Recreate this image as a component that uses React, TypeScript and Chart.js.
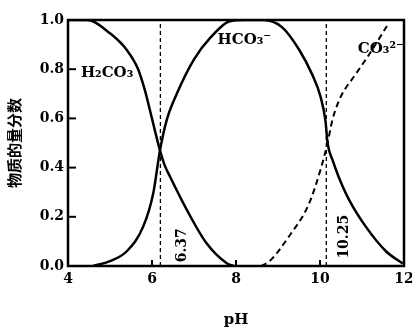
import React, { useEffect, useRef } from 'react';
import { Chart, registerables } from 'chart.js';

Chart.register(...registerables);

// pH axis
const xMin = 4;
const xMax = 12;
const xTickValues = [4, 6, 8, 10, 12];
const yTickValues = [0, 0.2, 0.4, 0.6, 0.8, 1.0];

// H2CO3 fraction vs pH
const h2co3PH = [4.0, 4.44, 5.0, 5.4, 5.67, 5.83, 5.95, 6.07, 6.19, 6.3, 6.43, 6.83, 7.3, 7.78, 7.95];
const h2co3Val = [1.0, 1.0, 0.946, 0.878, 0.8, 0.715, 0.634, 0.55, 0.47, 0.41, 0.363, 0.228, 0.092, 0.011, 0.0];

// HCO3- fraction vs pH
const hco3PH = [4.6, 5.0, 5.4, 5.79, 6.03, 6.19, 6.35, 6.59, 7.0, 7.4, 7.85, 8.2, 8.65, 9.1, 9.5, 9.81, 10.01, 10.13, 10.18, 10.3, 10.45, 10.69, 11.09, 11.57, 11.97];
const hco3Val = [0.0, 0.02, 0.06, 0.16, 0.296, 0.47, 0.593, 0.7, 0.84, 0.93, 0.995, 1.0, 1.0, 0.97, 0.88, 0.78, 0.69, 0.59, 0.5, 0.43, 0.36, 0.27, 0.16, 0.06, 0.01];

// CO3 2- fraction vs pH (dashed)
const co3PH = [8.6, 8.8, 9.26, 9.73, 10.01, 10.18, 10.29, 10.4, 10.53, 10.85, 11.17, 11.61];
const co3Val = [0.0, 0.02, 0.12, 0.25, 0.39, 0.5, 0.59, 0.65, 0.7, 0.78, 0.86, 0.98];

// vertical pKa lines (positions as drawn) and their labels
const pkaLineX = [6.2, 10.15];
const pkaLabels = ['6.37', '10.25'];
const pkaLabelX = [6.72, 10.58];
const pkaLabelY = [0.015, 0.03];

// species labels
const speciesNames = ['H₂CO₃', 'HCO₃⁻', 'CO₃²⁻'];
const speciesX = [4.93, 8.2, 11.45];
const speciesY = [0.785, 0.92, 0.88];

const toPoints = (xs: number[], ys: number[]) => xs.map((x, i) => ({ x, y: ys[i] }));

const SERIF = '"DejaVu Serif", "Liberation Serif", serif';

const overlayPlugin = {
  id: 'overlay',
  afterDatasetsDraw(chart: any) {
    const { ctx, chartArea, scales } = chart;
    const xs = scales.x;
    const ys = scales.y;
    ctx.save();
    // frame
    ctx.strokeStyle = '#000';
    ctx.lineWidth = 2.5;
    ctx.strokeRect(chartArea.left, chartArea.top, chartArea.right - chartArea.left, chartArea.bottom - chartArea.top);
    // inward ticks
    ctx.lineWidth = 2;
    yTickValues.forEach((v) => {
      const py = ys.getPixelForValue(v);
      ctx.beginPath();
      ctx.moveTo(chartArea.left, py);
      ctx.lineTo(chartArea.left + 8, py);
      ctx.stroke();
    });
    xTickValues.forEach((v) => {
      const px = xs.getPixelForValue(v);
      ctx.beginPath();
      ctx.moveTo(px, chartArea.bottom);
      ctx.lineTo(px, chartArea.bottom - 6);
      ctx.stroke();
    });
    // species labels
    ctx.fillStyle = '#000';
    ctx.font = 'bold 15px ' + SERIF;
    ctx.textAlign = 'center';
    ctx.textBaseline = 'middle';
    speciesNames.forEach((t, i) => {
      ctx.fillText(t, xs.getPixelForValue(speciesX[i]), ys.getPixelForValue(speciesY[i]));
    });
    // pKa labels rotated
    ctx.font = 'bold 14px ' + SERIF;
    pkaLabels.forEach((t, i) => {
      const px = xs.getPixelForValue(pkaLabelX[i]);
      const py = ys.getPixelForValue(pkaLabelY[i]);
      ctx.save();
      ctx.translate(px, py);
      ctx.rotate(-Math.PI / 2);
      ctx.textAlign = 'left';
      ctx.textBaseline = 'middle';
      ctx.fillText(t, 0, 0);
      ctx.restore();
    });
    ctx.restore();
  },
};

export default function App() {
  const ref = useRef<HTMLCanvasElement | null>(null);
  useEffect(() => {
    document.body.style.margin = '0';
    const canvas = ref.current;
    if (!canvas) return;
    const vLines = pkaLineX.map((x) => ({
      type: 'line' as const,
      data: [{ x, y: 0 }, { x, y: 1 }],
      borderColor: '#000',
      borderWidth: 1.3,
      borderDash: [4, 3],
      pointRadius: 0,
      fill: false,
    }));
    const chart = new Chart(canvas, {
      type: 'line',
      data: {
        datasets: [
          {
            label: 'H2CO3',
            data: toPoints(h2co3PH, h2co3Val),
            borderColor: '#000',
            borderWidth: 2.5,
            pointRadius: 0,
            cubicInterpolationMode: 'monotone',
            fill: false,
          },
          {
            label: 'HCO3-',
            data: toPoints(hco3PH, hco3Val),
            borderColor: '#000',
            borderWidth: 2.5,
            pointRadius: 0,
            cubicInterpolationMode: 'monotone',
            fill: false,
          },
          {
            label: 'CO3 2-',
            data: toPoints(co3PH, co3Val),
            borderColor: '#000',
            borderWidth: 2,
            borderDash: [6, 4],
            pointRadius: 0,
            cubicInterpolationMode: 'monotone',
            fill: false,
          },
          ...vLines,
        ] as any,
      },
      options: {
        animation: false,
        responsive: false,
        devicePixelRatio: 1,
        layout: { padding: { top: 20, right: 0, left: 0, bottom: 0 } },
        plugins: { legend: { display: false }, tooltip: { enabled: false } },
        scales: {
          x: {
            type: 'linear',
            min: xMin,
            max: xMax,
            afterBuildTicks: (s: any) => {
              s.ticks = xTickValues.map((v) => ({ value: v }));
            },
            afterFit: (s: any) => {
              s.height = 63;
              s.paddingRight = 8;
              s.paddingLeft = 0;
            },
            grid: { display: false, drawTicks: false },
            border: { display: false },
            ticks: {
              color: '#000',
              padding: 5,
              maxRotation: 0,
              font: { family: SERIF, size: 14, weight: 'bold' },
            },
            title: {
              display: true,
              text: 'pH',
              color: '#000',
              padding: { top: 0, bottom: 0 },
              font: { family: SERIF, size: 15, weight: 'bold' },
            },
          },
          y: {
            type: 'linear',
            min: 0,
            max: 1,
            afterBuildTicks: (s: any) => {
              s.ticks = yTickValues.map((v) => ({ value: v }));
            },
            afterFit: (s: any) => {
              s.width = 68;
            },
            grid: { display: false, drawTicks: false },
            border: { display: false },
            ticks: {
              color: '#000',
              padding: 4,
              font: { family: SERIF, size: 14, weight: 'bold' },
              callback: (v: any) => Number(v).toFixed(1),
            },
            title: {
              display: true,
              text: '物质的量分数',
              color: '#000',
              padding: { top: 5, bottom: 0 },
              font: { family: '"Noto Sans CJK SC", sans-serif', size: 15, weight: 'bold' },
            },
          },
        },
      },
      plugins: [overlayPlugin],
    });
    return () => chart.destroy();
  }, []);
  return (
    <div style={{ width: 412, height: 329 }}>
      <canvas ref={ref} width={412} height={329} />
    </div>
  );
}
